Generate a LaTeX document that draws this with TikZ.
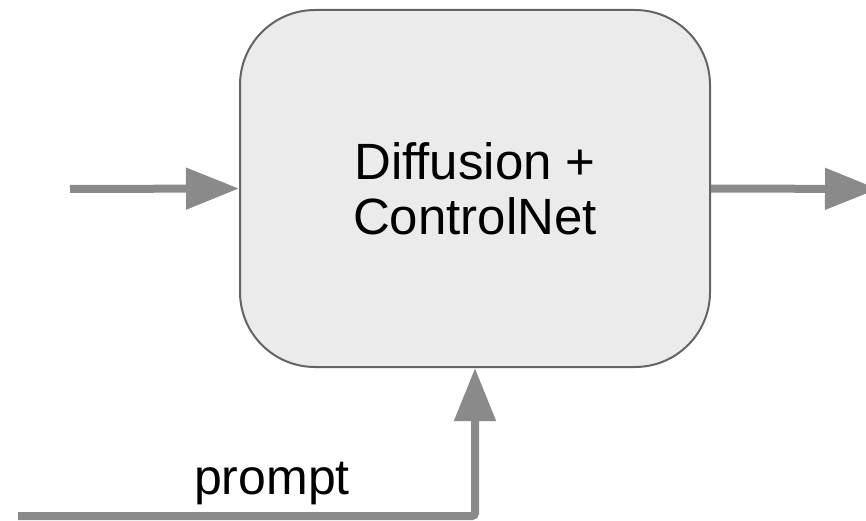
\documentclass[tikz,border=0pt]{standalone}
\usepackage{fontspec}
\setmainfont{Liberation Sans}
\usepackage{tikz}
\usetikzlibrary{arrows.meta}
\usetikzlibrary{positioning}
\definecolor{flowgray}{RGB}{138,138,138}
\definecolor{boxfill}{RGB}{235,235,235}
\definecolor{boxline}{RGB}{100,100,100}

\begin{document}
\begin{tikzpicture}[x=1pt,y=-1pt]
		\tikzset{block/.style={draw=boxline, line width=2pt, fill=boxfill, rounded corners=75pt,
				minimum width=470pt, minimum height=357pt, align=center,
				font=\fontsize{51}{55}\selectfont}}
		\tikzset{flow/.style={draw=flowgray, line width=8pt,
				-{Triangle[length=53pt,width=40pt]}}}
		\tikzset{tag/.style={font=\fontsize{50}{55}\selectfont, inner sep=0pt}}
		\useasboundingbox (0,0) rectangle (866,521);
		% the model block
		\node[block] (model) at (475,188.5) {Diffusion +\\ControlNet};
		% free ends of the connectors
		\coordinate (src) at (70,189);
		\coordinate (dst) at (878,189);
		\coordinate (txt) at (18,516);
		\draw[flow] (src) -- (model.west);
		\draw[flow] (model.east) -- (dst);
		\draw[flow, rounded corners=3pt] (txt) -| (model.south);
		\node[tag, anchor=base] (prompt) at (272,494) {prompt};
\end{tikzpicture}
\end{document}
